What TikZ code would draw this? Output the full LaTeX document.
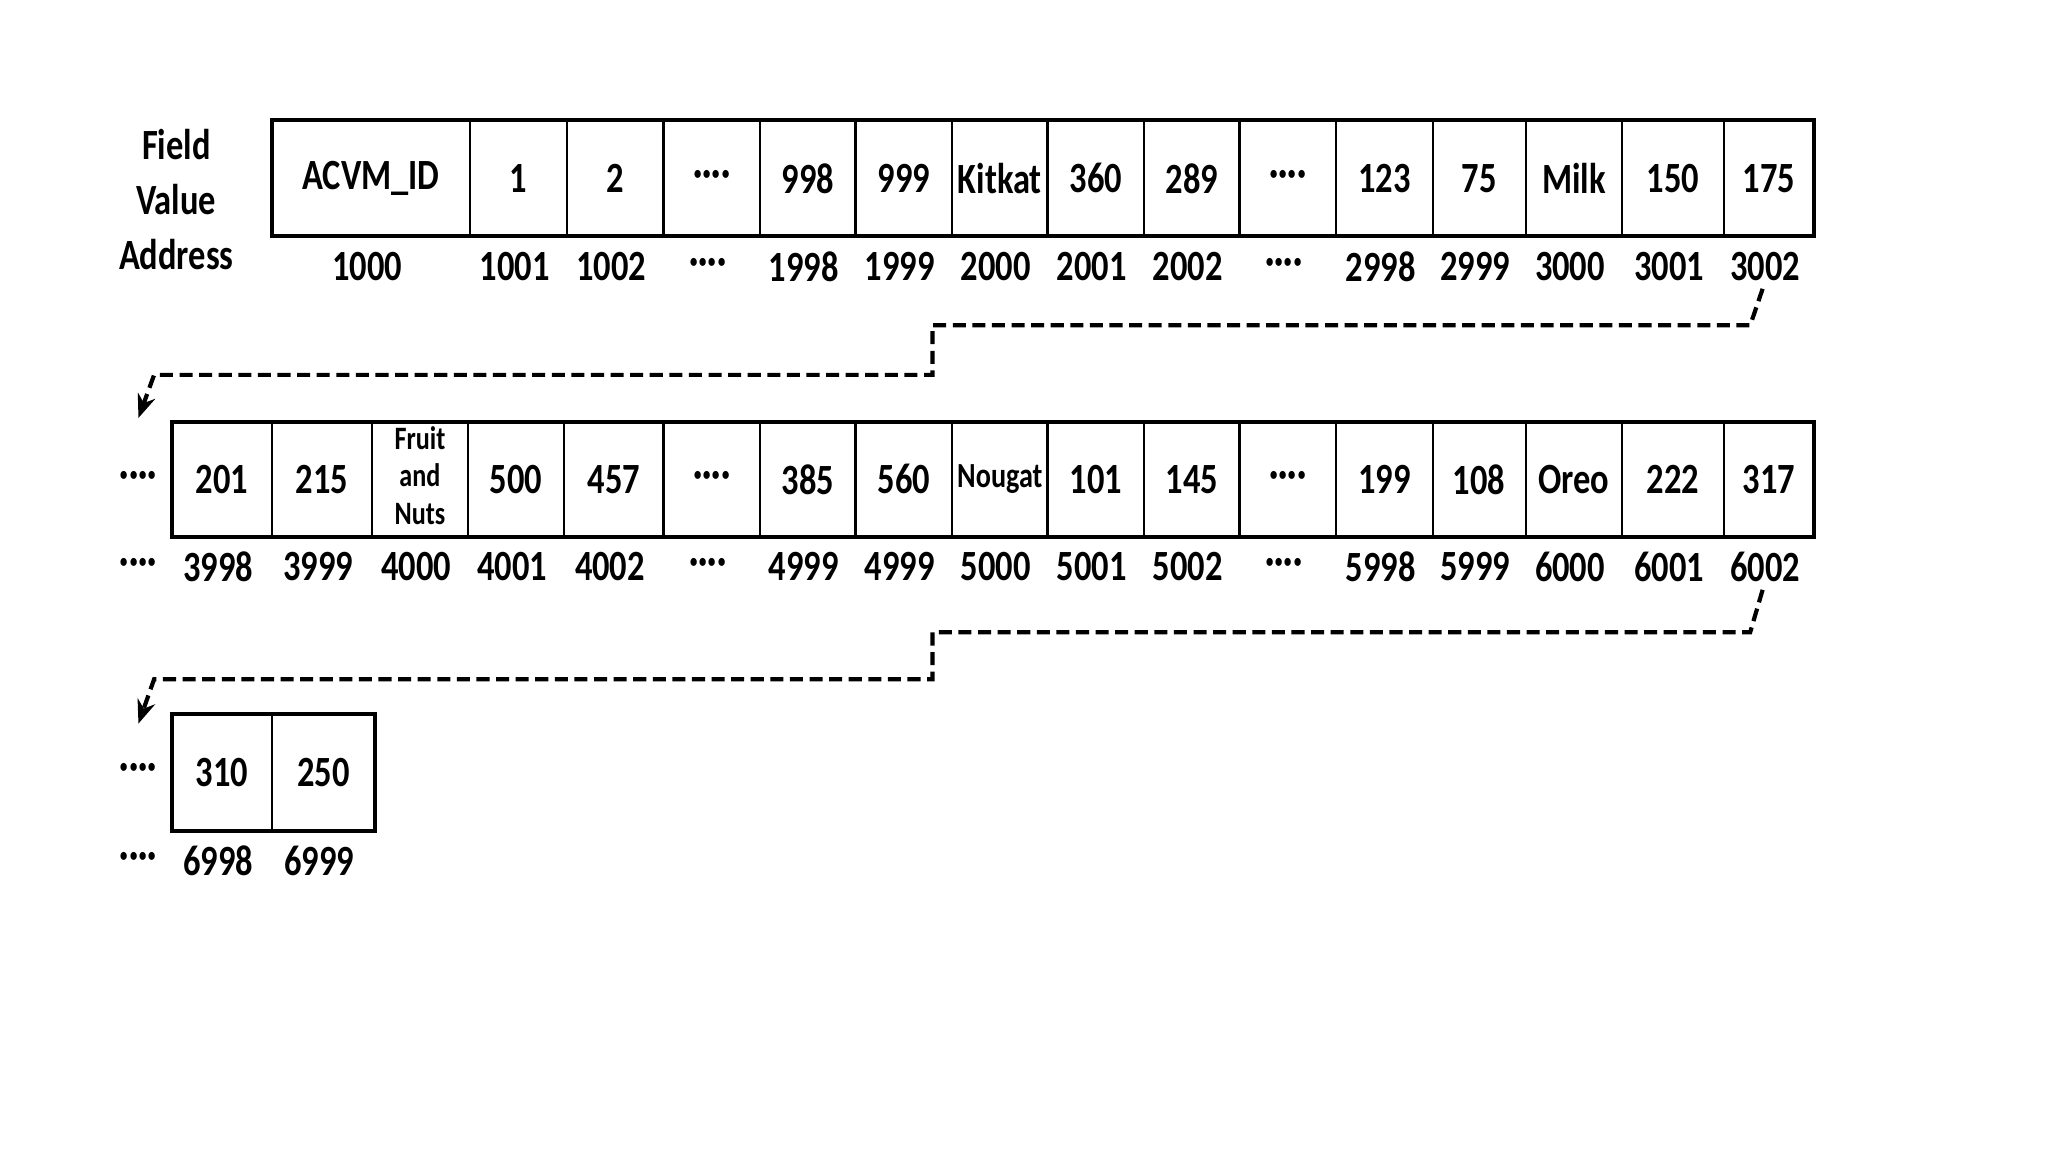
\documentclass[tikz,border=0pt]{standalone}
\usepackage{fontspec}
\setmainfont{Carlito}[FakeStretch=0.8]
\usetikzlibrary{arrows.meta}
\newcommand\fruitnuts{\fontsize{25}{28.5}\selectfont\begin{tabular}{@{}c@{}}Fruit\\and\\Nuts\end{tabular}}
\newcommand\nougattext{\raisebox{4pt}{\fontsize{27}{30}\selectfont Nougat}}
\newcommand\fourdots{\raisebox{-3pt}{····}}
\begin{document}
\begin{tikzpicture}[x=1pt,y=-1pt,
 cell/.style={draw, line width=1.6pt, inner sep=0pt, outer sep=0pt, font=\fontsize{33}{36}\selectfont\bfseries},
 addr/.style={inner sep=0pt, font=\fontsize{33}{36}\selectfont\bfseries},
 lbl/.style={inner sep=0pt, align=center, font=\fontsize{33}{42}\selectfont\bfseries},
 outerbox/.style={line width=3pt},
 conn/.style={line width=3.2pt, dash pattern=on 10pt off 5pt},
 tip/.style={-{Stealth[length=18pt,width=14pt]}}
 ]
\useasboundingbox[fill=white] (0,0) rectangle (1568,882);

% labels
\node[lbl] (lab) at (135,153) {Field\\Value\\Address};

% row 1
\foreach \l/\r/\t/\n [count=\i] in {208/360/ACVM\_ID/1000, 360/434/1/1001, 434/508/2/1002, 508/582/\fourdots/\fourdots, 582/655/998/1998, 655/729/999/1999, 729/802/Kitkat/2000, 802/876/360/2001, 876/949/289/2002, 949/1023/\fourdots/\fourdots, 1023/1097/123/2998, 1097/1168/75/2999, 1168/1242/Milk/3000, 1242/1320/150/3001, 1320/1389/175/3002}{
  \node[cell, minimum width={(\r-\l)*1pt}, minimum height=89pt] (v1-\i) at ({(\l+\r)/2},136.5) {\t};
  \node[addr] (a1-\i) at ({(\l+\r)/2-3},204) {\n};
}
\draw[outerbox] (v1-1.north west) rectangle (v1-15.south east);

% row 2
\node[addr] (d2v) at (106,367) {\fourdots};
\node[addr] (d2a) at (106,434) {\fourdots};
\foreach \l/\r/\t/\n [count=\i] in {132/208/201/3998, 208/285/215/3999, 285/358/\fruitnuts/4000, 358/432/500/4001, 432/508/457/4002, 508/582/\fourdots/\fourdots, 582/655/385/4999, 655/729/560/4999, 729/802/\nougattext/5000, 802/876/101/5001, 876/949/145/5002, 949/1023/\fourdots/\fourdots, 1023/1097/199/5998, 1097/1168/108/5999, 1168/1242/Oreo/6000, 1242/1320/222/6001, 1320/1389/317/6002}{
  \node[cell, minimum width={(\r-\l)*1pt}, minimum height=88pt] (v2-\i) at ({(\l+\r)/2},367) {\t};
  \node[addr] (a2-\i) at ({(\l+\r)/2-3},434) {\n};
}
\draw[outerbox] (v2-1.north west) rectangle (v2-17.south east);

% row 3
\node[addr] (d3v) at (106,591) {\fourdots};
\node[addr] (d3a) at (106,659) {\fourdots};
\foreach \l/\r/\t/\n [count=\i] in {132/208/310/6998, 208/287/250/6999}{
  \node[cell, minimum width={(\r-\l)*1pt}, minimum height=89pt] (v3-\i) at ({(\l+\r)/2},591.5) {\t};
  \node[addr] (a3-\i) at ({(\l+\r)/2-3},659) {\n};
}
\draw[outerbox] (v3-1.north west) rectangle (v3-2.south east);

% connector 1
\coordinate (c1a) at (1340,249);
\coordinate (c1b) at (714,249);
\coordinate (c1c) at (714,287);
\coordinate (c1d) at (118,287);
\coordinate (c1e) at (106,320);
\draw[conn,tip] ([xshift=-2pt,yshift=-6pt]a1-15.south) -- (c1a) -- (c1b) -- (c1c) -- (c1d) -- (c1e);

% connector 2
\coordinate (c2a) at (1340,484);
\coordinate (c2b) at (714,484);
\coordinate (c2c) at (714,520);
\coordinate (c2d) at (118,520);
\coordinate (c2e) at (106,554);
\draw[conn,tip] ([xshift=-2pt,yshift=-6pt]a2-17.south) -- (c2a) -- (c2b) -- (c2c) -- (c2d) -- (c2e);
\end{tikzpicture}
\end{document}
